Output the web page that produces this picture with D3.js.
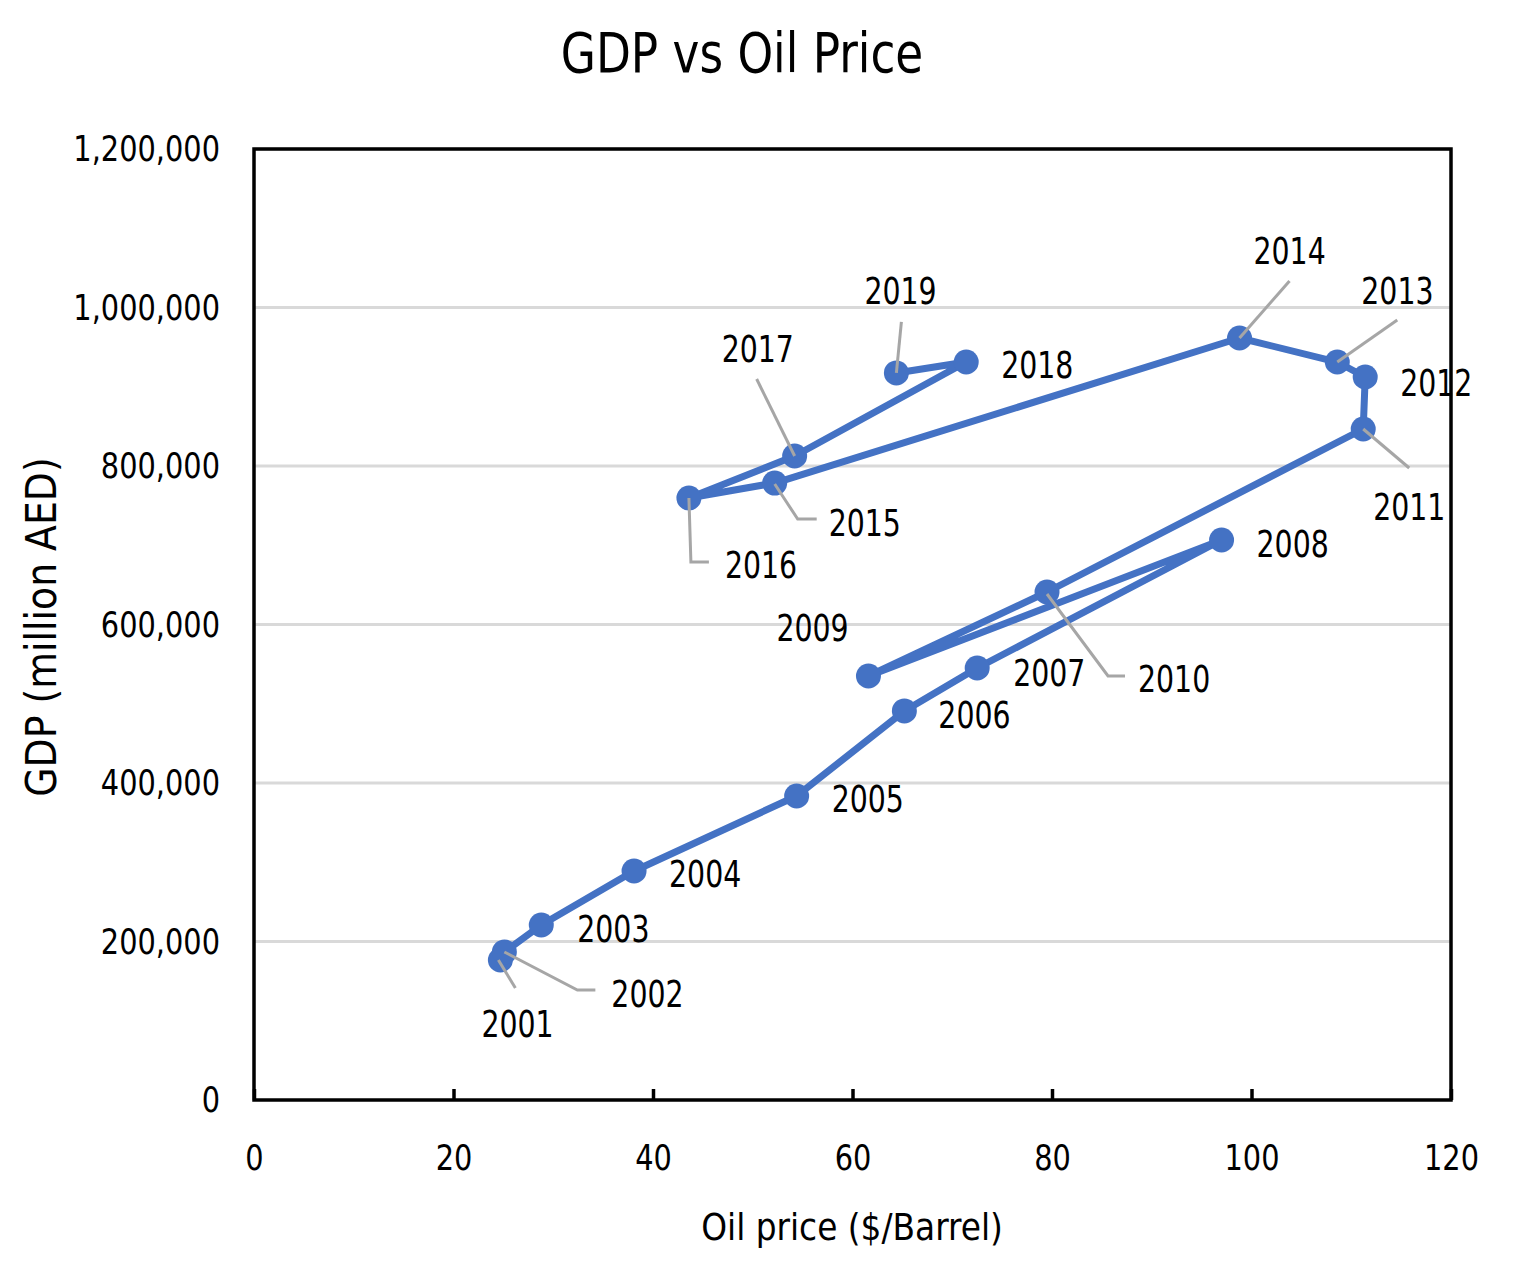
<!DOCTYPE html>
<html>
<head>
<meta charset="utf-8">
<script src="https://cdn.jsdelivr.net/npm/d3@7"></script>
<style>
  body { margin: 0; background: #fff; }
  text { font-family: "Liberation Sans Narrow", "DejaVu Sans Condensed", "Liberation Sans", sans-serif; fill: #000; }
</style>
</head>
<body>
<script>
const years = [2001, 2002, 2003, 2004, 2005, 2006, 2007, 2008, 2009, 2010,
  2011, 2012, 2013, 2014, 2015, 2016, 2017, 2018, 2019];
const oilPrice = [24.7, 25.1, 28.8, 38.1, 54.4, 65.2, 72.5, 97.0, 61.6, 79.5,
  111.2, 111.4, 108.6, 98.8, 52.2, 43.6, 54.2, 71.4, 64.4];
const gdp = [176700, 186800, 220800, 289000, 383600, 490900, 545100, 706600, 535000, 641000,
  846700, 912300, 931200, 961500, 778500, 759600, 812600, 931200, 917400];
const xTicks = [0, 20, 40, 60, 80, 100, 120];
const yTicks = [0, 200000, 400000, 600000, 800000, 1000000, 1200000];

// label placement (px offsets from the point) and leader lines, by year
const labelLayout = {
  2001: { dx: -19, dy: 77, leader: [[-2, 0], [15, 28]] },
  2002: { dx: 107, dy: 55, leader: [[0, 0], [73, 38], [91, 38]] },
  2003: { dx: 36, dy: 17 },
  2004: { dx: 35, dy: 16 },
  2005: { dx: 35, dy: 16 },
  2006: { dx: 34, dy: 17 },
  2007: { dx: 36, dy: 18 },
  2008: { dx: 35, dy: 17 },
  2009: { dx: -92, dy: -35 },
  2010: { dx: 91, dy: 100, leader: [[0, 2], [61, 84], [78, 84]] },
  2011: { dx: 10, dy: 91, leader: [[0, 0], [46, 39]] },
  2012: { dx: 35, dy: 19 },
  2013: { dx: 24, dy: -58, leader: [[0, 0], [60, -42]] },
  2014: { dx: 14, dy: -74, leader: [[0, 0], [50, -57]] },
  2015: { dx: 54, dy: 53, leader: [[0, 1], [23, 36], [42, 36]] },
  2016: { dx: 36, dy: 80, leader: [[0, 0], [2, 64], [20, 64]] },
  2017: { dx: -73, dy: -94, leader: [[0, 0], [-38, -77]] },
  2018: { dx: 35, dy: 16 },
  2019: { dx: -32, dy: -69, leader: [[0, 0], [5, -51]] }
};

const data = years.map((y, i) => ({ year: y, x: oilPrice[i], y: gdp[i] }));

const w = 1513, h = 1273;
const plotLeft = 254, plotRight = 1451, plotTop = 149, plotBottom = 1100;

// squeeze text horizontally to get closer to the narrow original font
function condense(sel, factor) {
  sel.each(function () {
    const len = this.getComputedTextLength();
    d3.select(this)
      .attr("textLength", len * factor)
      .attr("lengthAdjust", "spacingAndGlyphs");
  });
}

const svg = d3.select("body").append("svg")
  .attr("width", w)
  .attr("height", h);

const xScale = d3.scaleLinear().domain([0, 120]).range([plotLeft, plotRight]);
const yScale = d3.scaleLinear().domain([0, 1200000]).range([plotBottom, plotTop]);

// gridlines
svg.append("g")
  .selectAll("line")
  .data(yTicks.slice(1))
  .enter()
  .append("line")
  .attr("x1", plotLeft).attr("x2", plotRight)
  .attr("y1", d => yScale(d)).attr("y2", d => yScale(d))
  .attr("stroke", "#d9d9d9")
  .attr("stroke-width", 3);

// y axis labels
const yAxis = d3.axisLeft(yScale)
  .tickValues(yTicks)
  .tickSize(0)
  .tickPadding(34)
  .tickFormat(d3.format(","));

svg.append("g")
  .attr("transform", "translate(" + plotLeft + ",0)")
  .call(yAxis)
  .call(g => g.select(".domain").remove())
  .selectAll("text")
  .style("font-size", "36px")
  .attr("font-family", null)
  .call(condense, 0.89);

// x axis
const xAxis = d3.axisBottom(xScale)
  .tickValues(xTicks)
  .tickSize(-11)
  .tickPadding(44)
  .tickFormat(d3.format("d"));

svg.append("g")
  .attr("transform", "translate(0," + plotBottom + ")")
  .call(xAxis)
  .call(g => g.select(".domain").remove())
  .call(g => g.selectAll("line").attr("stroke", "#000").attr("stroke-width", 3.5))
  .selectAll("text")
  .style("font-size", "36px")
  .attr("font-family", null)
  .call(condense, 0.89);

// plot frame
svg.append("rect")
  .attr("x", plotLeft).attr("y", plotTop)
  .attr("width", plotRight - plotLeft).attr("height", plotBottom - plotTop)
  .attr("fill", "none")
  .attr("stroke", "#000")
  .attr("stroke-width", 3.5);

// connecting line
const line = d3.line()
  .x(d => xScale(d.x))
  .y(d => yScale(d.y));

svg.append("path")
  .datum(data)
  .attr("d", line)
  .attr("fill", "none")
  .attr("stroke", "#4472c4")
  .attr("stroke-width", 7)
  .attr("stroke-linejoin", "round");

svg.selectAll("circle")
  .data(data)
  .enter()
  .append("circle")
  .attr("cx", d => xScale(d.x))
  .attr("cy", d => yScale(d.y))
  .attr("r", 12.5)
  .attr("fill", "#4472c4");

// leader lines on top of markers
svg.append("g")
  .selectAll("polyline")
  .data(data.filter(d => labelLayout[d.year].leader))
  .enter()
  .append("polyline")
  .attr("points", d => labelLayout[d.year].leader
    .map(p => (xScale(d.x) + p[0]) + "," + (yScale(d.y) + p[1])).join(" "))
  .attr("fill", "none")
  .attr("stroke", "#a6a6a6")
  .attr("stroke-width", 3);

// data labels
svg.append("g")
  .selectAll("text")
  .data(data)
  .enter()
  .append("text")
  .attr("x", d => xScale(d.x) + labelLayout[d.year].dx)
  .attr("y", d => yScale(d.y) + labelLayout[d.year].dy)
  .text(d => d.year)
  .style("font-size", "38px")
  .call(condense, 0.83);

// titles
svg.append("text")
  .attr("x", 742)
  .attr("y", 72)
  .attr("text-anchor", "middle")
  .text("GDP vs Oil Price")
  .style("font-size", "56px")
  .call(condense, 0.9);

svg.append("text")
  .attr("x", 852)
  .attr("y", 1240)
  .attr("text-anchor", "middle")
  .text("Oil price ($/Barrel)")
  .style("font-size", "38px")
  .call(condense, 0.96);

svg.append("text")
  .attr("transform", "translate(56,627) rotate(-90)")
  .attr("text-anchor", "middle")
  .text("GDP (million AED)")
  .style("font-size", "42px");
</script>
</body>
</html>
